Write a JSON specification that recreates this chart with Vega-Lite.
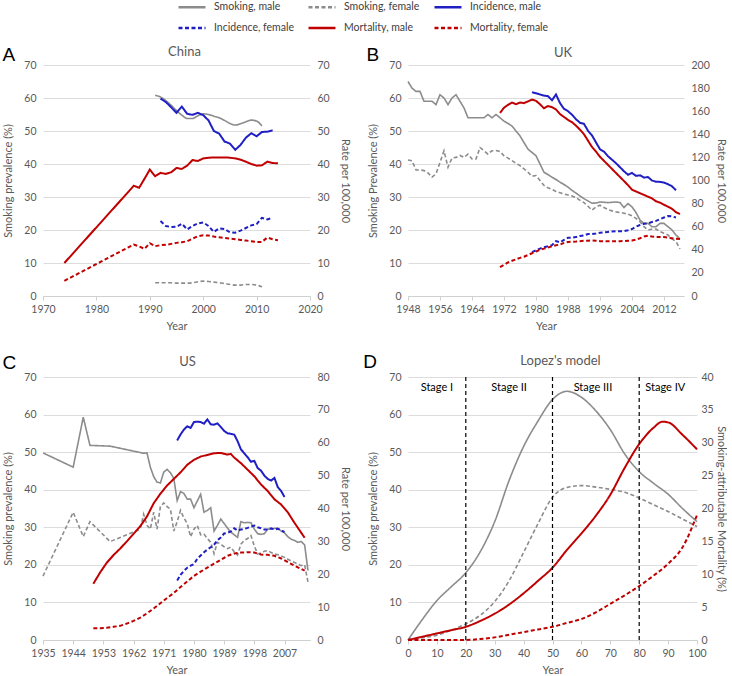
{
  "$schema": "https://vega.github.io/schema/vega-lite/v6.json",
  "padding": {"left": 2, "top": -8, "right": 0, "bottom": 0},
  "columns": 2,
  "spacing": {"row": 81, "column": 98},
  "bounds": "flush",
  "config": {
    "font": "Lato",
    "view": {"stroke": null},
    "axis": {"labelFont": "Lato", "labelFontSize": 10.5, "labelColor": "#595959", "titleFont": "Lato", "titleFontSize": 11, "titleFontWeight": "normal", "titleColor": "#595959", "domain": false, "ticks": false, "grid": false, "labelPadding": 7, "titlePadding": 10, "gridColor": "#dcdcdc", "labelOverlap": false},
    "axisX": {"domain": true, "domainColor": "#d0d0d0", "ticks": true, "tickColor": "#d0d0d0", "tickSize": 4, "labelPadding": 4, "titlePadding": 6, "labelFlush": false, "labelOverlap": false},
    "title": {"font": "Lato", "fontSize": 13, "fontWeight": "normal", "color": "#595959", "offset": 1},
    "legend": {"labelFont": "Lato", "labelFontSize": 10.5, "labelColor": "#404040", "symbolSize": 729, "symbolStrokeWidth": 2.5, "columnPadding": 9, "rowPadding": 0, "labelOffset": 7, "padding": 0, "symbolType": "stroke"}
  },
  "datasets": {
    "chinaSmoking": [
      {"series":"Smoking, male","year":1991,"value":60.8},{"series":"Smoking, male","year":1992,"value":60.3},{"series":"Smoking, male","year":1993,"value":59.2},{"series":"Smoking, male","year":1994,"value":57.8},{"series":"Smoking, male","year":1995,"value":56.2},{"series":"Smoking, male","year":1996,"value":54.8},{"series":"Smoking, male","year":1997,"value":53.8},{"series":"Smoking, male","year":1998,"value":53.8},{"series":"Smoking, male","year":1999,"value":54.6},{"series":"Smoking, male","year":2000,"value":55.2},{"series":"Smoking, male","year":2001,"value":55.0},{"series":"Smoking, male","year":2002,"value":54.5},{"series":"Smoking, male","year":2003,"value":54.0},{"series":"Smoking, male","year":2004,"value":53.2},{"series":"Smoking, male","year":2005,"value":52.3},{"series":"Smoking, male","year":2006,"value":51.8},{"series":"Smoking, male","year":2007,"value":52.2},{"series":"Smoking, male","year":2008,"value":52.8},{"series":"Smoking, male","year":2009,"value":53.3},{"series":"Smoking, male","year":2010,"value":53.0},{"series":"Smoking, male","year":2011,"value":51.5},
      {"series":"Smoking, female","year":1991,"value":4.0},{"series":"Smoking, female","year":1992,"value":4.0},{"series":"Smoking, female","year":1993,"value":4.0},{"series":"Smoking, female","year":1994,"value":4.0},{"series":"Smoking, female","year":1995,"value":3.9},{"series":"Smoking, female","year":1996,"value":3.9},{"series":"Smoking, female","year":1997,"value":3.9},{"series":"Smoking, female","year":1998,"value":4.0},{"series":"Smoking, female","year":1999,"value":4.3},{"series":"Smoking, female","year":2000,"value":4.5},{"series":"Smoking, female","year":2001,"value":4.4},{"series":"Smoking, female","year":2002,"value":4.2},{"series":"Smoking, female","year":2003,"value":4.0},{"series":"Smoking, female","year":2004,"value":3.8},{"series":"Smoking, female","year":2005,"value":3.5},{"series":"Smoking, female","year":2006,"value":3.3},{"series":"Smoking, female","year":2007,"value":3.3},{"series":"Smoking, female","year":2008,"value":3.5},{"series":"Smoking, female","year":2009,"value":3.5},{"series":"Smoking, female","year":2010,"value":3.3},{"series":"Smoking, female","year":2011,"value":2.8}
    ],
    "chinaRate": [
      {"series":"Incidence, male","year":1992,"value":59.8},{"series":"Incidence, male","year":1993,"value":58.8},{"series":"Incidence, male","year":1994,"value":57.2},{"series":"Incidence, male","year":1995,"value":55.5},{"series":"Incidence, male","year":1996,"value":57.4},{"series":"Incidence, male","year":1997,"value":55.2},{"series":"Incidence, male","year":1998,"value":54.9},{"series":"Incidence, male","year":1999,"value":55.5},{"series":"Incidence, male","year":2000,"value":54.8},{"series":"Incidence, male","year":2001,"value":53.2},{"series":"Incidence, male","year":2002,"value":50.0},{"series":"Incidence, male","year":2003,"value":49.2},{"series":"Incidence, male","year":2004,"value":46.8},{"series":"Incidence, male","year":2005,"value":46.2},{"series":"Incidence, male","year":2006,"value":44.3},{"series":"Incidence, male","year":2007,"value":45.8},{"series":"Incidence, male","year":2008,"value":48.0},{"series":"Incidence, male","year":2009,"value":49.3},{"series":"Incidence, male","year":2010,"value":48.4},{"series":"Incidence, male","year":2011,"value":49.7},{"series":"Incidence, male","year":2012,"value":49.8},{"series":"Incidence, male","year":2013,"value":50.2},
      {"series":"Incidence, female","year":1992,"value":22.7},{"series":"Incidence, female","year":1993,"value":21.2},{"series":"Incidence, female","year":1994,"value":20.9},{"series":"Incidence, female","year":1995,"value":21.0},{"series":"Incidence, female","year":1996,"value":21.9},{"series":"Incidence, female","year":1997,"value":20.2},{"series":"Incidence, female","year":1998,"value":21.2},{"series":"Incidence, female","year":1999,"value":22.0},{"series":"Incidence, female","year":2000,"value":22.3},{"series":"Incidence, female","year":2001,"value":21.2},{"series":"Incidence, female","year":2002,"value":19.4},{"series":"Incidence, female","year":2003,"value":20.5},{"series":"Incidence, female","year":2004,"value":20.3},{"series":"Incidence, female","year":2005,"value":19.3},{"series":"Incidence, female","year":2006,"value":19.2},{"series":"Incidence, female","year":2007,"value":19.8},{"series":"Incidence, female","year":2008,"value":20.6},{"series":"Incidence, female","year":2009,"value":21.4},{"series":"Incidence, female","year":2010,"value":21.8},{"series":"Incidence, female","year":2011,"value":23.7},{"series":"Incidence, female","year":2012,"value":23.2},{"series":"Incidence, female","year":2013,"value":23.7},
      {"series":"Mortality, male","year":1974,"value":10.0},{"series":"Mortality, male","year":1987,"value":33.4},{"series":"Mortality, male","year":1988,"value":32.8},{"series":"Mortality, male","year":1989,"value":35.5},{"series":"Mortality, male","year":1990,"value":38.3},{"series":"Mortality, male","year":1991,"value":36.3},{"series":"Mortality, male","year":1992,"value":37.3},{"series":"Mortality, male","year":1993,"value":37.0},{"series":"Mortality, male","year":1994,"value":37.5},{"series":"Mortality, male","year":1995,"value":38.8},{"series":"Mortality, male","year":1996,"value":38.5},{"series":"Mortality, male","year":1997,"value":39.5},{"series":"Mortality, male","year":1998,"value":41.2},{"series":"Mortality, male","year":1999,"value":40.9},{"series":"Mortality, male","year":2000,"value":41.7},{"series":"Mortality, male","year":2001,"value":41.9},{"series":"Mortality, male","year":2002,"value":42.0},{"series":"Mortality, male","year":2003,"value":42.0},{"series":"Mortality, male","year":2004,"value":42.0},{"series":"Mortality, male","year":2005,"value":41.9},{"series":"Mortality, male","year":2006,"value":41.7},{"series":"Mortality, male","year":2007,"value":41.3},{"series":"Mortality, male","year":2008,"value":40.7},{"series":"Mortality, male","year":2009,"value":40.0},{"series":"Mortality, male","year":2010,"value":39.5},{"series":"Mortality, male","year":2011,"value":39.6},{"series":"Mortality, male","year":2012,"value":40.7},{"series":"Mortality, male","year":2013,"value":40.3},{"series":"Mortality, male","year":2014,"value":40.2},
      {"series":"Mortality, female","year":1974,"value":4.6},{"series":"Mortality, female","year":1987,"value":15.6},{"series":"Mortality, female","year":1988,"value":15.0},{"series":"Mortality, female","year":1989,"value":14.3},{"series":"Mortality, female","year":1990,"value":16.0},{"series":"Mortality, female","year":1991,"value":15.1},{"series":"Mortality, female","year":1992,"value":15.4},{"series":"Mortality, female","year":1993,"value":15.5},{"series":"Mortality, female","year":1994,"value":15.8},{"series":"Mortality, female","year":1995,"value":16.1},{"series":"Mortality, female","year":1996,"value":16.3},{"series":"Mortality, female","year":1997,"value":16.6},{"series":"Mortality, female","year":1998,"value":17.4},{"series":"Mortality, female","year":1999,"value":18.1},{"series":"Mortality, female","year":2000,"value":18.4},{"series":"Mortality, female","year":2001,"value":18.3},{"series":"Mortality, female","year":2002,"value":18.0},{"series":"Mortality, female","year":2003,"value":17.8},{"series":"Mortality, female","year":2004,"value":17.6},{"series":"Mortality, female","year":2005,"value":17.4},{"series":"Mortality, female","year":2006,"value":17.2},{"series":"Mortality, female","year":2007,"value":17.0},{"series":"Mortality, female","year":2008,"value":16.8},{"series":"Mortality, female","year":2009,"value":16.6},{"series":"Mortality, female","year":2010,"value":16.4},{"series":"Mortality, female","year":2011,"value":16.4},{"series":"Mortality, female","year":2012,"value":17.7},{"series":"Mortality, female","year":2013,"value":17.2},{"series":"Mortality, female","year":2014,"value":16.9}
    ],
    "ukSmoking": [
      {"series":"Smoking, male","year":1948,"value":65.0},{"series":"Smoking, male","year":1949,"value":63.0},{"series":"Smoking, male","year":1950,"value":62.0},{"series":"Smoking, male","year":1951,"value":62.0},{"series":"Smoking, male","year":1952,"value":59.0},{"series":"Smoking, male","year":1953,"value":59.0},{"series":"Smoking, male","year":1954,"value":59.0},{"series":"Smoking, male","year":1955,"value":58.0},{"series":"Smoking, male","year":1956,"value":61.0},{"series":"Smoking, male","year":1957,"value":60.0},{"series":"Smoking, male","year":1958,"value":58.0},{"series":"Smoking, male","year":1959,"value":60.0},{"series":"Smoking, male","year":1960,"value":61.0},{"series":"Smoking, male","year":1961,"value":59.0},{"series":"Smoking, male","year":1962,"value":57.0},{"series":"Smoking, male","year":1963,"value":54.0},{"series":"Smoking, male","year":1964,"value":54.0},{"series":"Smoking, male","year":1965,"value":54.0},{"series":"Smoking, male","year":1966,"value":54.0},{"series":"Smoking, male","year":1967,"value":54.0},{"series":"Smoking, male","year":1968,"value":55.0},{"series":"Smoking, male","year":1969,"value":54.0},{"series":"Smoking, male","year":1970,"value":55.0},{"series":"Smoking, male","year":1971,"value":54.0},{"series":"Smoking, male","year":1972,"value":53.0},{"series":"Smoking, male","year":1973,"value":52.3},{"series":"Smoking, male","year":1974,"value":51.5},{"series":"Smoking, male","year":1975,"value":50.0},{"series":"Smoking, male","year":1976,"value":48.5},{"series":"Smoking, male","year":1977,"value":46.5},{"series":"Smoking, male","year":1978,"value":44.5},{"series":"Smoking, male","year":1979,"value":43.5},{"series":"Smoking, male","year":1980,"value":42.5},{"series":"Smoking, male","year":1981,"value":40.0},{"series":"Smoking, male","year":1982,"value":37.5},{"series":"Smoking, male","year":1983,"value":36.8},{"series":"Smoking, male","year":1984,"value":36.0},{"series":"Smoking, male","year":1985,"value":35.3},{"series":"Smoking, male","year":1986,"value":34.5},{"series":"Smoking, male","year":1987,"value":33.8},{"series":"Smoking, male","year":1988,"value":33.0},{"series":"Smoking, male","year":1989,"value":32.0},{"series":"Smoking, male","year":1990,"value":31.2},{"series":"Smoking, male","year":1991,"value":30.3},{"series":"Smoking, male","year":1992,"value":29.5},{"series":"Smoking, male","year":1993,"value":28.8},{"series":"Smoking, male","year":1994,"value":28.1},{"series":"Smoking, male","year":1995,"value":28.2},{"series":"Smoking, male","year":1996,"value":28.5},{"series":"Smoking, male","year":1997,"value":28.4},{"series":"Smoking, male","year":1998,"value":28.3},{"series":"Smoking, male","year":1999,"value":28.4},{"series":"Smoking, male","year":2000,"value":28.5},{"series":"Smoking, male","year":2001,"value":28.3},{"series":"Smoking, male","year":2002,"value":26.8},{"series":"Smoking, male","year":2003,"value":28.0},{"series":"Smoking, male","year":2004,"value":27.0},{"series":"Smoking, male","year":2005,"value":25.3},{"series":"Smoking, male","year":2006,"value":23.0},{"series":"Smoking, male","year":2007,"value":22.0},{"series":"Smoking, male","year":2008,"value":22.0},{"series":"Smoking, male","year":2009,"value":21.0},{"series":"Smoking, male","year":2010,"value":21.0},{"series":"Smoking, male","year":2011,"value":22.0},{"series":"Smoking, male","year":2012,"value":22.0},{"series":"Smoking, male","year":2013,"value":21.0},{"series":"Smoking, male","year":2014,"value":20.0},{"series":"Smoking, male","year":2015,"value":18.5},{"series":"Smoking, male","year":2016,"value":17.3},
      {"series":"Smoking, female","year":1948,"value":41.2},{"series":"Smoking, female","year":1949,"value":41.0},{"series":"Smoking, female","year":1950,"value":38.2},{"series":"Smoking, female","year":1951,"value":38.2},{"series":"Smoking, female","year":1952,"value":38.0},{"series":"Smoking, female","year":1953,"value":37.3},{"series":"Smoking, female","year":1954,"value":36.0},{"series":"Smoking, female","year":1955,"value":37.0},{"series":"Smoking, female","year":1956,"value":40.5},{"series":"Smoking, female","year":1957,"value":44.0},{"series":"Smoking, female","year":1958,"value":39.0},{"series":"Smoking, female","year":1959,"value":41.8},{"series":"Smoking, female","year":1960,"value":42.0},{"series":"Smoking, female","year":1961,"value":42.6},{"series":"Smoking, female","year":1962,"value":42.0},{"series":"Smoking, female","year":1963,"value":43.0},{"series":"Smoking, female","year":1964,"value":41.5},{"series":"Smoking, female","year":1965,"value":41.5},{"series":"Smoking, female","year":1966,"value":45.0},{"series":"Smoking, female","year":1967,"value":44.0},{"series":"Smoking, female","year":1968,"value":43.0},{"series":"Smoking, female","year":1969,"value":44.0},{"series":"Smoking, female","year":1970,"value":44.1},{"series":"Smoking, female","year":1971,"value":43.8},{"series":"Smoking, female","year":1972,"value":42.5},{"series":"Smoking, female","year":1973,"value":41.8},{"series":"Smoking, female","year":1974,"value":41.0},{"series":"Smoking, female","year":1975,"value":40.2},{"series":"Smoking, female","year":1976,"value":39.5},{"series":"Smoking, female","year":1977,"value":38.5},{"series":"Smoking, female","year":1978,"value":37.5},{"series":"Smoking, female","year":1979,"value":36.3},{"series":"Smoking, female","year":1980,"value":36.5},{"series":"Smoking, female","year":1981,"value":35.0},{"series":"Smoking, female","year":1982,"value":33.5},{"series":"Smoking, female","year":1983,"value":32.8},{"series":"Smoking, female","year":1984,"value":32.3},{"series":"Smoking, female","year":1985,"value":31.7},{"series":"Smoking, female","year":1986,"value":31.3},{"series":"Smoking, female","year":1987,"value":30.9},{"series":"Smoking, female","year":1988,"value":30.6},{"series":"Smoking, female","year":1989,"value":30.3},{"series":"Smoking, female","year":1990,"value":29.8},{"series":"Smoking, female","year":1991,"value":29.0},{"series":"Smoking, female","year":1992,"value":28.3},{"series":"Smoking, female","year":1993,"value":27.2},{"series":"Smoking, female","year":1994,"value":26.0},{"series":"Smoking, female","year":1995,"value":27.0},{"series":"Smoking, female","year":1996,"value":27.5},{"series":"Smoking, female","year":1997,"value":26.8},{"series":"Smoking, female","year":1998,"value":26.2},{"series":"Smoking, female","year":1999,"value":25.8},{"series":"Smoking, female","year":2000,"value":25.5},{"series":"Smoking, female","year":2001,"value":25.3},{"series":"Smoking, female","year":2002,"value":25.1},{"series":"Smoking, female","year":2003,"value":24.8},{"series":"Smoking, female","year":2004,"value":24.3},{"series":"Smoking, female","year":2005,"value":23.5},{"series":"Smoking, female","year":2006,"value":22.5},{"series":"Smoking, female","year":2007,"value":21.0},{"series":"Smoking, female","year":2008,"value":20.0},{"series":"Smoking, female","year":2009,"value":20.3},{"series":"Smoking, female","year":2010,"value":20.3},{"series":"Smoking, female","year":2011,"value":19.5},{"series":"Smoking, female","year":2012,"value":19.0},{"series":"Smoking, female","year":2013,"value":18.5},{"series":"Smoking, female","year":2014,"value":17.3},{"series":"Smoking, female","year":2015,"value":16.5},{"series":"Smoking, female","year":2016,"value":14.3}
    ],
    "ukRate": [
      {"series":"Incidence, male","year":1979,"value":176.5},{"series":"Incidence, male","year":1980,"value":175.5},{"series":"Incidence, male","year":1981,"value":174.5},{"series":"Incidence, male","year":1982,"value":173.5},{"series":"Incidence, male","year":1983,"value":173.0},{"series":"Incidence, male","year":1984,"value":169.5},{"series":"Incidence, male","year":1985,"value":174.5},{"series":"Incidence, male","year":1986,"value":167.0},{"series":"Incidence, male","year":1987,"value":162.0},{"series":"Incidence, male","year":1988,"value":160.0},{"series":"Incidence, male","year":1989,"value":157.0},{"series":"Incidence, male","year":1990,"value":153.0},{"series":"Incidence, male","year":1991,"value":150.0},{"series":"Incidence, male","year":1992,"value":149.0},{"series":"Incidence, male","year":1993,"value":143.0},{"series":"Incidence, male","year":1994,"value":139.0},{"series":"Incidence, male","year":1995,"value":133.0},{"series":"Incidence, male","year":1996,"value":127.0},{"series":"Incidence, male","year":1997,"value":125.0},{"series":"Incidence, male","year":1998,"value":121.0},{"series":"Incidence, male","year":1999,"value":118.0},{"series":"Incidence, male","year":2000,"value":115.0},{"series":"Incidence, male","year":2001,"value":111.5},{"series":"Incidence, male","year":2002,"value":108.0},{"series":"Incidence, male","year":2003,"value":105.0},{"series":"Incidence, male","year":2004,"value":106.5},{"series":"Incidence, male","year":2005,"value":104.0},{"series":"Incidence, male","year":2006,"value":104.5},{"series":"Incidence, male","year":2007,"value":102.5},{"series":"Incidence, male","year":2008,"value":103.0},{"series":"Incidence, male","year":2009,"value":100.0},{"series":"Incidence, male","year":2010,"value":99.0},{"series":"Incidence, male","year":2011,"value":98.8},{"series":"Incidence, male","year":2012,"value":98.2},{"series":"Incidence, male","year":2013,"value":96.8},{"series":"Incidence, male","year":2014,"value":95.0},{"series":"Incidence, male","year":2015,"value":91.5},
      {"series":"Incidence, female","year":1979,"value":38.0},{"series":"Incidence, female","year":1980,"value":39.5},{"series":"Incidence, female","year":1981,"value":41.0},{"series":"Incidence, female","year":1982,"value":42.2},{"series":"Incidence, female","year":1983,"value":43.0},{"series":"Incidence, female","year":1984,"value":44.0},{"series":"Incidence, female","year":1985,"value":47.5},{"series":"Incidence, female","year":1986,"value":46.5},{"series":"Incidence, female","year":1987,"value":48.5},{"series":"Incidence, female","year":1988,"value":50.5},{"series":"Incidence, female","year":1989,"value":50.5},{"series":"Incidence, female","year":1990,"value":51.0},{"series":"Incidence, female","year":1991,"value":52.0},{"series":"Incidence, female","year":1992,"value":52.5},{"series":"Incidence, female","year":1993,"value":53.7},{"series":"Incidence, female","year":1994,"value":53.7},{"series":"Incidence, female","year":1995,"value":54.2},{"series":"Incidence, female","year":1996,"value":54.8},{"series":"Incidence, female","year":1997,"value":55.2},{"series":"Incidence, female","year":1998,"value":55.5},{"series":"Incidence, female","year":1999,"value":55.8},{"series":"Incidence, female","year":2000,"value":56.0},{"series":"Incidence, female","year":2001,"value":56.0},{"series":"Incidence, female","year":2002,"value":56.2},{"series":"Incidence, female","year":2003,"value":57.0},{"series":"Incidence, female","year":2004,"value":58.0},{"series":"Incidence, female","year":2005,"value":60.0},{"series":"Incidence, female","year":2006,"value":61.5},{"series":"Incidence, female","year":2007,"value":62.5},{"series":"Incidence, female","year":2008,"value":63.0},{"series":"Incidence, female","year":2009,"value":64.0},{"series":"Incidence, female","year":2010,"value":65.0},{"series":"Incidence, female","year":2011,"value":66.5},{"series":"Incidence, female","year":2012,"value":68.0},{"series":"Incidence, female","year":2013,"value":69.3},{"series":"Incidence, female","year":2014,"value":68.9},{"series":"Incidence, female","year":2015,"value":68.0},
      {"series":"Mortality, male","year":1971,"value":158.5},{"series":"Mortality, male","year":1972,"value":163.0},{"series":"Mortality, male","year":1973,"value":165.5},{"series":"Mortality, male","year":1974,"value":167.5},{"series":"Mortality, male","year":1975,"value":166.0},{"series":"Mortality, male","year":1976,"value":167.5},{"series":"Mortality, male","year":1977,"value":167.0},{"series":"Mortality, male","year":1978,"value":168.5},{"series":"Mortality, male","year":1979,"value":170.0},{"series":"Mortality, male","year":1980,"value":169.0},{"series":"Mortality, male","year":1981,"value":166.0},{"series":"Mortality, male","year":1982,"value":162.5},{"series":"Mortality, male","year":1983,"value":164.5},{"series":"Mortality, male","year":1984,"value":163.5},{"series":"Mortality, male","year":1985,"value":161.5},{"series":"Mortality, male","year":1986,"value":157.5},{"series":"Mortality, male","year":1987,"value":155.0},{"series":"Mortality, male","year":1988,"value":152.5},{"series":"Mortality, male","year":1989,"value":150.5},{"series":"Mortality, male","year":1990,"value":147.5},{"series":"Mortality, male","year":1991,"value":144.0},{"series":"Mortality, male","year":1992,"value":140.0},{"series":"Mortality, male","year":1993,"value":134.5},{"series":"Mortality, male","year":1994,"value":129.0},{"series":"Mortality, male","year":1995,"value":125.0},{"series":"Mortality, male","year":1996,"value":120.5},{"series":"Mortality, male","year":1997,"value":117.0},{"series":"Mortality, male","year":1998,"value":113.5},{"series":"Mortality, male","year":1999,"value":110.0},{"series":"Mortality, male","year":2000,"value":106.5},{"series":"Mortality, male","year":2001,"value":103.0},{"series":"Mortality, male","year":2002,"value":99.5},{"series":"Mortality, male","year":2003,"value":96.0},{"series":"Mortality, male","year":2004,"value":92.0},{"series":"Mortality, male","year":2005,"value":90.5},{"series":"Mortality, male","year":2006,"value":89.0},{"series":"Mortality, male","year":2007,"value":87.5},{"series":"Mortality, male","year":2008,"value":86.0},{"series":"Mortality, male","year":2009,"value":84.5},{"series":"Mortality, male","year":2010,"value":82.0},{"series":"Mortality, male","year":2011,"value":80.8},{"series":"Mortality, male","year":2012,"value":79.0},{"series":"Mortality, male","year":2013,"value":77.3},{"series":"Mortality, male","year":2014,"value":75.5},{"series":"Mortality, male","year":2015,"value":72.5},{"series":"Mortality, male","year":2016,"value":71.0},
      {"series":"Mortality, female","year":1971,"value":25.0},{"series":"Mortality, female","year":1972,"value":27.0},{"series":"Mortality, female","year":1973,"value":29.0},{"series":"Mortality, female","year":1974,"value":30.5},{"series":"Mortality, female","year":1975,"value":31.8},{"series":"Mortality, female","year":1976,"value":33.0},{"series":"Mortality, female","year":1977,"value":34.0},{"series":"Mortality, female","year":1978,"value":35.5},{"series":"Mortality, female","year":1979,"value":37.0},{"series":"Mortality, female","year":1980,"value":38.5},{"series":"Mortality, female","year":1981,"value":40.0},{"series":"Mortality, female","year":1982,"value":41.0},{"series":"Mortality, female","year":1983,"value":42.0},{"series":"Mortality, female","year":1984,"value":43.0},{"series":"Mortality, female","year":1985,"value":44.0},{"series":"Mortality, female","year":1986,"value":44.5},{"series":"Mortality, female","year":1987,"value":46.0},{"series":"Mortality, female","year":1988,"value":46.8},{"series":"Mortality, female","year":1989,"value":47.0},{"series":"Mortality, female","year":1990,"value":47.2},{"series":"Mortality, female","year":1991,"value":47.5},{"series":"Mortality, female","year":1992,"value":47.8},{"series":"Mortality, female","year":1993,"value":47.9},{"series":"Mortality, female","year":1994,"value":48.0},{"series":"Mortality, female","year":1995,"value":47.8},{"series":"Mortality, female","year":1996,"value":47.5},{"series":"Mortality, female","year":1997,"value":47.3},{"series":"Mortality, female","year":1998,"value":47.3},{"series":"Mortality, female","year":1999,"value":47.3},{"series":"Mortality, female","year":2000,"value":47.3},{"series":"Mortality, female","year":2001,"value":47.5},{"series":"Mortality, female","year":2002,"value":47.6},{"series":"Mortality, female","year":2003,"value":47.8},{"series":"Mortality, female","year":2004,"value":48.0},{"series":"Mortality, female","year":2005,"value":48.8},{"series":"Mortality, female","year":2006,"value":50.0},{"series":"Mortality, female","year":2007,"value":51.5},{"series":"Mortality, female","year":2008,"value":52.2},{"series":"Mortality, female","year":2009,"value":51.5},{"series":"Mortality, female","year":2010,"value":51.0},{"series":"Mortality, female","year":2011,"value":51.0},{"series":"Mortality, female","year":2012,"value":51.0},{"series":"Mortality, female","year":2013,"value":50.5},{"series":"Mortality, female","year":2014,"value":50.0},{"series":"Mortality, female","year":2015,"value":49.5},{"series":"Mortality, female","year":2016,"value":49.3}
    ],
    "usSmoking": [
      {"series":"Smoking, male","year":1935,"value":49.8},{"series":"Smoking, male","year":1944,"value":46.0},{"series":"Smoking, male","year":1947,"value":59.3},{"series":"Smoking, male","year":1949,"value":51.8},{"series":"Smoking, male","year":1955,"value":51.6},{"series":"Smoking, male","year":1965,"value":49.7},{"series":"Smoking, male","year":1966,"value":49.8},{"series":"Smoking, male","year":1967,"value":46.0},{"series":"Smoking, male","year":1968,"value":43.5},{"series":"Smoking, male","year":1969,"value":42.0},{"series":"Smoking, male","year":1970,"value":41.8},{"series":"Smoking, male","year":1971,"value":44.7},{"series":"Smoking, male","year":1972,"value":45.4},{"series":"Smoking, male","year":1973,"value":44.5},{"series":"Smoking, male","year":1974,"value":43.0},{"series":"Smoking, male","year":1975,"value":37.1},{"series":"Smoking, male","year":1976,"value":39.5},{"series":"Smoking, male","year":1977,"value":39.0},{"series":"Smoking, male","year":1978,"value":37.5},{"series":"Smoking, male","year":1979,"value":37.5},{"series":"Smoking, male","year":1980,"value":35.2},{"series":"Smoking, male","year":1981,"value":37.0},{"series":"Smoking, male","year":1982,"value":38.8},{"series":"Smoking, male","year":1983,"value":34.0},{"series":"Smoking, male","year":1984,"value":34.5},{"series":"Smoking, male","year":1985,"value":35.2},{"series":"Smoking, male","year":1986,"value":29.0},{"series":"Smoking, male","year":1987,"value":30.5},{"series":"Smoking, male","year":1988,"value":32.2},{"series":"Smoking, male","year":1989,"value":31.0},{"series":"Smoking, male","year":1990,"value":29.8},{"series":"Smoking, male","year":1991,"value":28.7},{"series":"Smoking, male","year":1992,"value":28.0},{"series":"Smoking, male","year":1993,"value":27.3},{"series":"Smoking, male","year":1994,"value":31.5},{"series":"Smoking, male","year":1995,"value":31.2},{"series":"Smoking, male","year":1996,"value":31.3},{"series":"Smoking, male","year":1997,"value":31.2},{"series":"Smoking, male","year":1998,"value":29.5},{"series":"Smoking, male","year":1999,"value":28.3},{"series":"Smoking, male","year":2000,"value":28.1},{"series":"Smoking, male","year":2001,"value":28.3},{"series":"Smoking, male","year":2002,"value":29.5},{"series":"Smoking, male","year":2003,"value":29.5},{"series":"Smoking, male","year":2004,"value":29.7},{"series":"Smoking, male","year":2005,"value":29.8},{"series":"Smoking, male","year":2006,"value":29.0},{"series":"Smoking, male","year":2007,"value":28.5},{"series":"Smoking, male","year":2008,"value":27.5},{"series":"Smoking, male","year":2009,"value":26.8},{"series":"Smoking, male","year":2010,"value":26.5},{"series":"Smoking, male","year":2011,"value":26.0},{"series":"Smoking, male","year":2012,"value":26.2},{"series":"Smoking, male","year":2013,"value":25.3},{"series":"Smoking, male","year":2014,"value":18.5},
      {"series":"Smoking, female","year":1935,"value":17.0},{"series":"Smoking, female","year":1944,"value":34.0},{"series":"Smoking, female","year":1947,"value":27.5},{"series":"Smoking, female","year":1949,"value":31.5},{"series":"Smoking, female","year":1955,"value":26.2},{"series":"Smoking, female","year":1960,"value":28.0},{"series":"Smoking, female","year":1964,"value":29.5},{"series":"Smoking, female","year":1965,"value":33.5},{"series":"Smoking, female","year":1966,"value":30.5},{"series":"Smoking, female","year":1967,"value":29.5},{"series":"Smoking, female","year":1968,"value":34.0},{"series":"Smoking, female","year":1969,"value":29.5},{"series":"Smoking, female","year":1970,"value":35.5},{"series":"Smoking, female","year":1971,"value":36.5},{"series":"Smoking, female","year":1972,"value":35.5},{"series":"Smoking, female","year":1973,"value":34.8},{"series":"Smoking, female","year":1974,"value":29.0},{"series":"Smoking, female","year":1975,"value":31.5},{"series":"Smoking, female","year":1976,"value":34.5},{"series":"Smoking, female","year":1977,"value":32.5},{"series":"Smoking, female","year":1978,"value":31.0},{"series":"Smoking, female","year":1979,"value":27.5},{"series":"Smoking, female","year":1980,"value":29.5},{"series":"Smoking, female","year":1981,"value":30.5},{"series":"Smoking, female","year":1982,"value":28.0},{"series":"Smoking, female","year":1983,"value":28.2},{"series":"Smoking, female","year":1984,"value":27.0},{"series":"Smoking, female","year":1985,"value":26.0},{"series":"Smoking, female","year":1986,"value":23.0},{"series":"Smoking, female","year":1987,"value":26.0},{"series":"Smoking, female","year":1988,"value":25.5},{"series":"Smoking, female","year":1989,"value":24.8},{"series":"Smoking, female","year":1990,"value":24.3},{"series":"Smoking, female","year":1991,"value":24.7},{"series":"Smoking, female","year":1992,"value":23.5},{"series":"Smoking, female","year":1993,"value":22.6},{"series":"Smoking, female","year":1994,"value":25.5},{"series":"Smoking, female","year":1995,"value":26.5},{"series":"Smoking, female","year":1996,"value":27.0},{"series":"Smoking, female","year":1997,"value":27.8},{"series":"Smoking, female","year":1998,"value":25.0},{"series":"Smoking, female","year":1999,"value":22.9},{"series":"Smoking, female","year":2000,"value":23.2},{"series":"Smoking, female","year":2001,"value":23.6},{"series":"Smoking, female","year":2002,"value":23.8},{"series":"Smoking, female","year":2003,"value":23.3},{"series":"Smoking, female","year":2004,"value":22.9},{"series":"Smoking, female","year":2005,"value":22.7},{"series":"Smoking, female","year":2006,"value":22.4},{"series":"Smoking, female","year":2007,"value":22.0},{"series":"Smoking, female","year":2008,"value":21.5},{"series":"Smoking, female","year":2009,"value":21.0},{"series":"Smoking, female","year":2010,"value":20.6},{"series":"Smoking, female","year":2011,"value":20.2},{"series":"Smoking, female","year":2012,"value":19.8},{"series":"Smoking, female","year":2013,"value":20.0},{"series":"Smoking, female","year":2014,"value":15.4}
    ],
    "usRate": [
      {"series":"Incidence, male","year":1975,"value":60.7},{"series":"Incidence, male","year":1976,"value":62.5},{"series":"Incidence, male","year":1977,"value":64.0},{"series":"Incidence, male","year":1978,"value":65.0},{"series":"Incidence, male","year":1979,"value":64.5},{"series":"Incidence, male","year":1980,"value":66.3},{"series":"Incidence, male","year":1981,"value":66.4},{"series":"Incidence, male","year":1982,"value":66.3},{"series":"Incidence, male","year":1983,"value":65.8},{"series":"Incidence, male","year":1984,"value":67.1},{"series":"Incidence, male","year":1985,"value":65.6},{"series":"Incidence, male","year":1986,"value":65.5},{"series":"Incidence, male","year":1987,"value":65.9},{"series":"Incidence, male","year":1988,"value":64.8},{"series":"Incidence, male","year":1989,"value":63.6},{"series":"Incidence, male","year":1990,"value":62.9},{"series":"Incidence, male","year":1991,"value":62.7},{"series":"Incidence, male","year":1992,"value":62.5},{"series":"Incidence, male","year":1993,"value":60.5},{"series":"Incidence, male","year":1994,"value":58.0},{"series":"Incidence, male","year":1995,"value":56.8},{"series":"Incidence, male","year":1996,"value":55.6},{"series":"Incidence, male","year":1997,"value":54.2},{"series":"Incidence, male","year":1998,"value":54.5},{"series":"Incidence, male","year":1999,"value":52.3},{"series":"Incidence, male","year":2000,"value":51.5},{"series":"Incidence, male","year":2001,"value":50.0},{"series":"Incidence, male","year":2002,"value":49.0},{"series":"Incidence, male","year":2003,"value":48.5},{"series":"Incidence, male","year":2004,"value":49.3},{"series":"Incidence, male","year":2005,"value":46.5},{"series":"Incidence, male","year":2006,"value":45.3},{"series":"Incidence, male","year":2007,"value":43.5},
      {"series":"Incidence, female","year":1975,"value":18.1},{"series":"Incidence, female","year":1976,"value":19.8},{"series":"Incidence, female","year":1977,"value":21.0},{"series":"Incidence, female","year":1978,"value":22.0},{"series":"Incidence, female","year":1979,"value":22.6},{"series":"Incidence, female","year":1980,"value":23.1},{"series":"Incidence, female","year":1981,"value":24.7},{"series":"Incidence, female","year":1982,"value":25.7},{"series":"Incidence, female","year":1983,"value":26.7},{"series":"Incidence, female","year":1984,"value":27.5},{"series":"Incidence, female","year":1985,"value":28.2},{"series":"Incidence, female","year":1986,"value":29.0},{"series":"Incidence, female","year":1987,"value":30.3},{"series":"Incidence, female","year":1988,"value":31.2},{"series":"Incidence, female","year":1989,"value":32.4},{"series":"Incidence, female","year":1990,"value":32.6},{"series":"Incidence, female","year":1991,"value":33.0},{"series":"Incidence, female","year":1992,"value":34.0},{"series":"Incidence, female","year":1993,"value":33.3},{"series":"Incidence, female","year":1994,"value":33.6},{"series":"Incidence, female","year":1995,"value":33.8},{"series":"Incidence, female","year":1996,"value":34.1},{"series":"Incidence, female","year":1997,"value":34.5},{"series":"Incidence, female","year":1998,"value":34.8},{"series":"Incidence, female","year":1999,"value":34.3},{"series":"Incidence, female","year":2000,"value":34.0},{"series":"Incidence, female","year":2001,"value":33.6},{"series":"Incidence, female","year":2002,"value":33.6},{"series":"Incidence, female","year":2003,"value":34.0},{"series":"Incidence, female","year":2004,"value":33.6},{"series":"Incidence, female","year":2005,"value":33.8},{"series":"Incidence, female","year":2006,"value":33.4},{"series":"Incidence, female","year":2007,"value":32.8},
      {"series":"Mortality, male","year":1950,"value":17.1},{"series":"Mortality, male","year":1952,"value":20.5},{"series":"Mortality, male","year":1954,"value":23.5},{"series":"Mortality, male","year":1956,"value":25.8},{"series":"Mortality, male","year":1958,"value":27.8},{"series":"Mortality, male","year":1960,"value":30.0},{"series":"Mortality, male","year":1962,"value":32.3},{"series":"Mortality, male","year":1964,"value":34.6},{"series":"Mortality, male","year":1966,"value":37.6},{"series":"Mortality, male","year":1968,"value":41.6},{"series":"Mortality, male","year":1970,"value":44.5},{"series":"Mortality, male","year":1972,"value":47.0},{"series":"Mortality, male","year":1974,"value":49.0},{"series":"Mortality, male","year":1976,"value":51.0},{"series":"Mortality, male","year":1978,"value":53.3},{"series":"Mortality, male","year":1980,"value":54.8},{"series":"Mortality, male","year":1982,"value":55.8},{"series":"Mortality, male","year":1984,"value":56.3},{"series":"Mortality, male","year":1986,"value":56.8},{"series":"Mortality, male","year":1988,"value":56.9},{"series":"Mortality, male","year":1990,"value":56.4},{"series":"Mortality, male","year":1991,"value":56.6},{"series":"Mortality, male","year":1992,"value":55.5},{"series":"Mortality, male","year":1994,"value":53.8},{"series":"Mortality, male","year":1996,"value":51.8},{"series":"Mortality, male","year":1998,"value":49.8},{"series":"Mortality, male","year":2000,"value":47.3},{"series":"Mortality, male","year":2002,"value":45.3},{"series":"Mortality, male","year":2004,"value":42.8},{"series":"Mortality, male","year":2006,"value":41.2},{"series":"Mortality, male","year":2008,"value":38.8},{"series":"Mortality, male","year":2010,"value":35.6},{"series":"Mortality, male","year":2012,"value":32.6},{"series":"Mortality, male","year":2013,"value":31.1},
      {"series":"Mortality, female","year":1950,"value":3.6},{"series":"Mortality, female","year":1952,"value":3.6},{"series":"Mortality, female","year":1954,"value":3.7},{"series":"Mortality, female","year":1956,"value":4.0},{"series":"Mortality, female","year":1958,"value":4.3},{"series":"Mortality, female","year":1960,"value":5.0},{"series":"Mortality, female","year":1962,"value":5.8},{"series":"Mortality, female","year":1964,"value":6.8},{"series":"Mortality, female","year":1966,"value":8.1},{"series":"Mortality, female","year":1968,"value":9.6},{"series":"Mortality, female","year":1970,"value":11.2},{"series":"Mortality, female","year":1972,"value":12.8},{"series":"Mortality, female","year":1974,"value":14.3},{"series":"Mortality, female","year":1976,"value":16.1},{"series":"Mortality, female","year":1978,"value":17.8},{"series":"Mortality, female","year":1980,"value":19.5},{"series":"Mortality, female","year":1982,"value":20.8},{"series":"Mortality, female","year":1984,"value":22.0},{"series":"Mortality, female","year":1986,"value":23.2},{"series":"Mortality, female","year":1988,"value":24.4},{"series":"Mortality, female","year":1990,"value":25.6},{"series":"Mortality, female","year":1992,"value":26.3},{"series":"Mortality, female","year":1994,"value":26.6},{"series":"Mortality, female","year":1996,"value":26.7},{"series":"Mortality, female","year":1998,"value":26.6},{"series":"Mortality, female","year":2000,"value":26.0},{"series":"Mortality, female","year":2002,"value":25.9},{"series":"Mortality, female","year":2004,"value":25.6},{"series":"Mortality, female","year":2006,"value":24.8},{"series":"Mortality, female","year":2008,"value":23.7},{"series":"Mortality, female","year":2010,"value":22.6},{"series":"Mortality, female","year":2012,"value":21.6},{"series":"Mortality, female","year":2013,"value":21.1}
    ],
    "lopezSmoking": [
      {"series":"Smoking, male","year":0,"value":0},{"series":"Smoking, male","year":5,"value":5.5},{"series":"Smoking, male","year":10,"value":10.5},{"series":"Smoking, male","year":15,"value":14.2},{"series":"Smoking, male","year":20,"value":17.9},{"series":"Smoking, male","year":25,"value":23.5},{"series":"Smoking, male","year":30,"value":31.5},{"series":"Smoking, male","year":35,"value":42.5},{"series":"Smoking, male","year":40,"value":51.5},{"series":"Smoking, male","year":45,"value":58.3},{"series":"Smoking, male","year":50,"value":64.0},{"series":"Smoking, male","year":55,"value":66.2},{"series":"Smoking, male","year":60,"value":64.6},{"series":"Smoking, male","year":65,"value":61.0},{"series":"Smoking, male","year":70,"value":56.0},{"series":"Smoking, male","year":75,"value":49.5},{"series":"Smoking, male","year":80,"value":44.8},{"series":"Smoking, male","year":85,"value":41.7},{"series":"Smoking, male","year":90,"value":38.8},{"series":"Smoking, male","year":95,"value":35.0},{"series":"Smoking, male","year":100,"value":31.5},
      {"series":"Smoking, female","year":0,"value":0},{"series":"Smoking, female","year":5,"value":0.6},{"series":"Smoking, female","year":10,"value":1.3},{"series":"Smoking, female","year":15,"value":2.6},{"series":"Smoking, female","year":20,"value":4.3},{"series":"Smoking, female","year":25,"value":6.6},{"series":"Smoking, female","year":30,"value":10.2},{"series":"Smoking, female","year":35,"value":15.8},{"series":"Smoking, female","year":40,"value":23.3},{"series":"Smoking, female","year":45,"value":31.0},{"series":"Smoking, female","year":50,"value":38.0},{"series":"Smoking, female","year":55,"value":40.6},{"series":"Smoking, female","year":60,"value":41.1},{"series":"Smoking, female","year":65,"value":40.7},{"series":"Smoking, female","year":70,"value":40.1},{"series":"Smoking, female","year":75,"value":39.3},{"series":"Smoking, female","year":80,"value":37.8},{"series":"Smoking, female","year":85,"value":36.0},{"series":"Smoking, female","year":90,"value":34.2},{"series":"Smoking, female","year":95,"value":32.2},{"series":"Smoking, female","year":100,"value":30.2}
    ],
    "lopezMortality": [
      {"series":"Mortality, male","year":0,"value":0},{"series":"Mortality, male","year":5,"value":0.5},{"series":"Mortality, male","year":10,"value":1.0},{"series":"Mortality, male","year":15,"value":1.5},{"series":"Mortality, male","year":20,"value":2.0},{"series":"Mortality, male","year":25,"value":2.9},{"series":"Mortality, male","year":30,"value":4.0},{"series":"Mortality, male","year":35,"value":5.4},{"series":"Mortality, male","year":40,"value":7.1},{"series":"Mortality, male","year":45,"value":9.0},{"series":"Mortality, male","year":50,"value":11.0},{"series":"Mortality, male","year":55,"value":13.7},{"series":"Mortality, male","year":60,"value":16.2},{"series":"Mortality, male","year":65,"value":18.9},{"series":"Mortality, male","year":70,"value":22.1},{"series":"Mortality, male","year":75,"value":26.2},{"series":"Mortality, male","year":80,"value":29.8},{"series":"Mortality, male","year":85,"value":32.3},{"series":"Mortality, male","year":88,"value":33.2},{"series":"Mortality, male","year":90,"value":33.1},{"series":"Mortality, male","year":95,"value":31.2},{"series":"Mortality, male","year":100,"value":29.0},
      {"series":"Mortality, female","year":0,"value":0},{"series":"Mortality, female","year":5,"value":0},{"series":"Mortality, female","year":10,"value":0},{"series":"Mortality, female","year":15,"value":0},{"series":"Mortality, female","year":20,"value":0},{"series":"Mortality, female","year":25,"value":0.15},{"series":"Mortality, female","year":30,"value":0.4},{"series":"Mortality, female","year":35,"value":0.8},{"series":"Mortality, female","year":40,"value":1.2},{"series":"Mortality, female","year":45,"value":1.6},{"series":"Mortality, female","year":50,"value":2.0},{"series":"Mortality, female","year":55,"value":2.6},{"series":"Mortality, female","year":60,"value":3.2},{"series":"Mortality, female","year":65,"value":4.2},{"series":"Mortality, female","year":70,"value":5.5},{"series":"Mortality, female","year":75,"value":6.8},{"series":"Mortality, female","year":80,"value":8.2},{"series":"Mortality, female","year":85,"value":9.8},{"series":"Mortality, female","year":90,"value":11.6},{"series":"Mortality, female","year":95,"value":14.1},{"series":"Mortality, female","year":100,"value":19.0}
    ]
  },
  "concat": [
    {
      "width": 267, "height": 231,
      "title": {"text": "China", "dx": 8, "offset": -13},
      "resolve": {"scale": {"y": "independent"}},
      "layer": [
        {
          "encoding": {
            "x": {"field": "year", "type": "quantitative", "scale": {"domain": [1970, 2020], "nice": false, "zero": false}, "axis": {"title": "Year", "values": [1970, 1980, 1990, 2000, 2010, 2020], "format": "d", "labelOverlap": false}},
            "y": {"field": "value", "type": "quantitative", "scale": {"domain": [0, 70], "nice": false}, "axis": {"title": "Smoking prevalence (%)", "values": [0, 10, 20, 30, 40, 50, 60, 70], "grid": true}}
          },
          "layer": [
            {"data": {"name": "chinaSmoking"}, "mark": {"type": "line", "strokeWidth": 1.6, "interpolate": "monotone"},
             "encoding": {
               "color": {"field": "series", "type": "nominal", "scale": {"domain": ["Smoking, male", "Smoking, female", "Incidence, male", "Incidence, female", "Mortality, male", "Mortality, female"], "range": ["#8c8c8c", "#8c8c8c", "#1f1fc4", "#1f1fc4", "#c00000", "#c00000"]}, "legend": {"title": null, "orient": "none", "legendX": 134, "legendY": -73, "columns": 3, "direction": "horizontal"}},
               "strokeDash": {"field": "series", "type": "nominal", "scale": {"domain": ["Smoking, male", "Smoking, female", "Incidence, male", "Incidence, female", "Mortality, male", "Mortality, female"], "range": [[1, 0], [4, 2.5], [1, 0], [4, 2.5], [1, 0], [4, 2.5]]}, "legend": {"title": null, "orient": "none", "legendX": 134, "legendY": -73, "columns": 3, "direction": "horizontal"}}
             }}
          ]
        },
        {
          "encoding": {
            "x": {"field": "year", "type": "quantitative", "scale": {"domain": [1970, 2020], "nice": false, "zero": false}, "axis": {"title": "Year", "values": [1970, 1980, 1990, 2000, 2010, 2020], "format": "d", "labelOverlap": false}},
            "y": {"field": "value", "type": "quantitative", "scale": {"domain": [0, 70], "nice": false}, "axis": {"title": "Rate per 100,000", "orient": "right", "values": [0, 10, 20, 30, 40, 50, 60, 70]}}
          },
          "layer": [
            {"data": {"name": "chinaRate"}, "mark": {"type": "line", "strokeWidth": 2},
             "encoding": {
               "color": {"field": "series", "type": "nominal", "scale": {"domain": ["Smoking, male", "Smoking, female", "Incidence, male", "Incidence, female", "Mortality, male", "Mortality, female"], "range": ["#8c8c8c", "#8c8c8c", "#1f1fc4", "#1f1fc4", "#c00000", "#c00000"]}, "legend": {"title": null, "orient": "none", "legendX": 134, "legendY": -73, "columns": 3, "direction": "horizontal"}},
               "strokeDash": {"field": "series", "type": "nominal", "scale": {"domain": ["Smoking, male", "Smoking, female", "Incidence, male", "Incidence, female", "Mortality, male", "Mortality, female"], "range": [[1, 0], [4, 2.5], [1, 0], [4, 2.5], [1, 0], [4, 2.5]]}, "legend": {"title": null, "orient": "none", "legendX": 134, "legendY": -73, "columns": 3, "direction": "horizontal"}}
             }}
          ]
        },
        {
          "data": {"values": [{"letter": "A"}]},
          "mark": {"type": "text", "font": "Liberation Sans", "fontSize": 19, "fill": "#000000", "baseline": "middle", "align": "center"},
          "encoding": {
            "text": {"field": "letter", "type": "nominal"},
            "x": {"datum": 1963.6, "type": "quantitative", "scale": {"domain": [1970, 2020], "nice": false, "zero": false}, "axis": {"title": "Year", "values": [1970, 1980, 1990, 2000, 2010, 2020], "format": "d", "labelOverlap": false}},
            "y": {"datum": 73.0, "type": "quantitative", "scale": {"domain": [0, 70], "nice": false}, "axis": null}
          }
        }
      ]
    },
    {
      "width": 276, "height": 231,
      "title": {"text": "UK", "dx": 17, "offset": -14},
      "resolve": {"scale": {"y": "independent"}},
      "layer": [
        {
          "encoding": {
            "x": {"field": "year", "type": "quantitative", "scale": {"domain": [1948, 2017], "nice": false, "zero": false}, "axis": {"title": "Year", "values": [1948, 1956, 1964, 1972, 1980, 1988, 1996, 2004, 2012], "format": "d", "labelOverlap": false}},
            "y": {"field": "value", "type": "quantitative", "scale": {"domain": [0, 70], "nice": false}, "axis": {"title": "Smoking Prevalence (%)", "values": [0, 10, 20, 30, 40, 50, 60, 70], "grid": true}}
          },
          "layer": [
            {"data": {"name": "ukSmoking"}, "mark": {"type": "line", "strokeWidth": 1.6},
             "encoding": {
               "color": {"field": "series", "type": "nominal", "scale": {"domain": ["Smoking, male", "Smoking, female", "Incidence, male", "Incidence, female", "Mortality, male", "Mortality, female"], "range": ["#8c8c8c", "#8c8c8c", "#1f1fc4", "#1f1fc4", "#c00000", "#c00000"]}, "legend": {"title": null, "orient": "none", "legendX": 134, "legendY": -73, "columns": 3, "direction": "horizontal"}},
               "strokeDash": {"field": "series", "type": "nominal", "scale": {"domain": ["Smoking, male", "Smoking, female", "Incidence, male", "Incidence, female", "Mortality, male", "Mortality, female"], "range": [[1, 0], [4, 2.5], [1, 0], [4, 2.5], [1, 0], [4, 2.5]]}, "legend": {"title": null, "orient": "none", "legendX": 134, "legendY": -73, "columns": 3, "direction": "horizontal"}}
             }}
          ]
        },
        {
          "encoding": {
            "x": {"field": "year", "type": "quantitative", "scale": {"domain": [1948, 2017], "nice": false, "zero": false}, "axis": {"title": "Year", "values": [1948, 1956, 1964, 1972, 1980, 1988, 1996, 2004, 2012], "format": "d", "labelOverlap": false}},
            "y": {"field": "value", "type": "quantitative", "scale": {"domain": [0, 200], "nice": false}, "axis": {"title": "Rate per 100,000", "orient": "right", "values": [0, 20, 40, 60, 80, 100, 120, 140, 160, 180, 200], "titlePadding": 6}}
          },
          "layer": [
            {"data": {"name": "ukRate"}, "mark": {"type": "line", "strokeWidth": 2},
             "encoding": {
               "color": {"field": "series", "type": "nominal", "scale": {"domain": ["Smoking, male", "Smoking, female", "Incidence, male", "Incidence, female", "Mortality, male", "Mortality, female"], "range": ["#8c8c8c", "#8c8c8c", "#1f1fc4", "#1f1fc4", "#c00000", "#c00000"]}, "legend": {"title": null, "orient": "none", "legendX": 134, "legendY": -73, "columns": 3, "direction": "horizontal"}},
               "strokeDash": {"field": "series", "type": "nominal", "scale": {"domain": ["Smoking, male", "Smoking, female", "Incidence, male", "Incidence, female", "Mortality, male", "Mortality, female"], "range": [[1, 0], [4, 2.5], [1, 0], [4, 2.5], [1, 0], [4, 2.5]]}, "legend": {"title": null, "orient": "none", "legendX": 134, "legendY": -73, "columns": 3, "direction": "horizontal"}}
             }}
          ]
        },
        {
          "data": {"values": [{"letter": "B"}]},
          "mark": {"type": "text", "font": "Liberation Sans", "fontSize": 19, "fill": "#000000", "baseline": "middle", "align": "center"},
          "encoding": {
            "text": {"field": "letter", "type": "nominal"},
            "x": {"datum": 1939.2, "type": "quantitative", "scale": {"domain": [1948, 2017], "nice": false, "zero": false}, "axis": {"title": "Year", "values": [1948, 1956, 1964, 1972, 1980, 1988, 1996, 2004, 2012], "format": "d", "labelOverlap": false}},
            "y": {"datum": 73.0, "type": "quantitative", "scale": {"domain": [0, 70], "nice": false}, "axis": null}
          }
        }
      ]
    },
    {
      "width": 267, "height": 263,
      "title": {"text": "US", "dx": 11, "offset": -15},
      "resolve": {"scale": {"y": "independent"}},
      "layer": [
        {
          "encoding": {
            "x": {"field": "year", "type": "quantitative", "scale": {"domain": [1935, 2014.6], "nice": false, "zero": false}, "axis": {"title": "Year", "values": [1935, 1944, 1953, 1962, 1971, 1980, 1989, 1998, 2007], "format": "d", "labelOverlap": false}},
            "y": {"field": "value", "type": "quantitative", "scale": {"domain": [0, 70], "nice": false}, "axis": {"title": "Smoking prevalence (%)", "values": [0, 10, 20, 30, 40, 50, 60, 70], "grid": true}}
          },
          "layer": [
            {"data": {"name": "usSmoking"}, "mark": {"type": "line", "strokeWidth": 1.6},
             "encoding": {
               "color": {"field": "series", "type": "nominal", "scale": {"domain": ["Smoking, male", "Smoking, female", "Incidence, male", "Incidence, female", "Mortality, male", "Mortality, female"], "range": ["#8c8c8c", "#8c8c8c", "#1f1fc4", "#1f1fc4", "#c00000", "#c00000"]}, "legend": {"title": null, "orient": "none", "legendX": 134, "legendY": -73, "columns": 3, "direction": "horizontal"}},
               "strokeDash": {"field": "series", "type": "nominal", "scale": {"domain": ["Smoking, male", "Smoking, female", "Incidence, male", "Incidence, female", "Mortality, male", "Mortality, female"], "range": [[1, 0], [4, 2.5], [1, 0], [4, 2.5], [1, 0], [4, 2.5]]}, "legend": {"title": null, "orient": "none", "legendX": 134, "legendY": -73, "columns": 3, "direction": "horizontal"}}
             }}
          ]
        },
        {
          "encoding": {
            "x": {"field": "year", "type": "quantitative", "scale": {"domain": [1935, 2014.6], "nice": false, "zero": false}, "axis": {"title": "Year", "values": [1935, 1944, 1953, 1962, 1971, 1980, 1989, 1998, 2007], "format": "d", "labelOverlap": false}},
            "y": {"field": "value", "type": "quantitative", "scale": {"domain": [0, 80], "nice": false}, "axis": {"title": "Rate per 100,000", "orient": "right", "values": [0, 10, 20, 30, 40, 50, 60, 70, 80]}}
          },
          "layer": [
            {"data": {"name": "usRate"}, "mark": {"type": "line", "strokeWidth": 2},
             "encoding": {
               "color": {"field": "series", "type": "nominal", "scale": {"domain": ["Smoking, male", "Smoking, female", "Incidence, male", "Incidence, female", "Mortality, male", "Mortality, female"], "range": ["#8c8c8c", "#8c8c8c", "#1f1fc4", "#1f1fc4", "#c00000", "#c00000"]}, "legend": {"title": null, "orient": "none", "legendX": 134, "legendY": -73, "columns": 3, "direction": "horizontal"}},
               "strokeDash": {"field": "series", "type": "nominal", "scale": {"domain": ["Smoking, male", "Smoking, female", "Incidence, male", "Incidence, female", "Mortality, male", "Mortality, female"], "range": [[1, 0], [4, 2.5], [1, 0], [4, 2.5], [1, 0], [4, 2.5]]}, "legend": {"title": null, "orient": "none", "legendX": 134, "legendY": -73, "columns": 3, "direction": "horizontal"}}
             }}
          ]
        },
        {
          "data": {"values": [{"letter": "C"}]},
          "mark": {"type": "text", "font": "Liberation Sans", "fontSize": 19, "fill": "#000000", "baseline": "middle", "align": "center"},
          "encoding": {
            "text": {"field": "letter", "type": "nominal"},
            "x": {"datum": 1925.0, "type": "quantitative", "scale": {"domain": [1935, 2014.6], "nice": false, "zero": false}, "axis": {"title": "Year", "values": [1935, 1944, 1953, 1962, 1971, 1980, 1989, 1998, 2007], "format": "d", "labelOverlap": false}},
            "y": {"datum": 73.6, "type": "quantitative", "scale": {"domain": [0, 70], "nice": false}, "axis": null}
          }
        }
      ]
    },
    {
      "width": 289, "height": 263,
      "title": {"text": "Lopez's model", "dx": 8, "offset": -15},
      "resolve": {"scale": {"y": "independent"}},
      "layer": [
        {
          "encoding": {
            "x": {"field": "year", "type": "quantitative", "scale": {"domain": [0, 100], "nice": false, "zero": false}, "axis": {"title": "Year", "values": [0, 10, 20, 30, 40, 50, 60, 70, 80, 90, 100], "format": "d", "labelOverlap": false}},
            "y": {"field": "value", "type": "quantitative", "scale": {"domain": [0, 70], "nice": false}, "axis": {"title": "Smoking prevalence (%)", "values": [0, 10, 20, 30, 40, 50, 60, 70], "grid": true}}
          },
          "layer": [
            {"data": {"name": "lopezSmoking"}, "mark": {"type": "line", "strokeWidth": 1.6, "interpolate": "monotone"},
             "encoding": {
               "color": {"field": "series", "type": "nominal", "scale": {"domain": ["Smoking, male", "Smoking, female", "Incidence, male", "Incidence, female", "Mortality, male", "Mortality, female"], "range": ["#8c8c8c", "#8c8c8c", "#1f1fc4", "#1f1fc4", "#c00000", "#c00000"]}, "legend": {"title": null, "orient": "none", "legendX": 134, "legendY": -73, "columns": 3, "direction": "horizontal"}},
               "strokeDash": {"field": "series", "type": "nominal", "scale": {"domain": ["Smoking, male", "Smoking, female", "Incidence, male", "Incidence, female", "Mortality, male", "Mortality, female"], "range": [[1, 0], [4, 2.5], [1, 0], [4, 2.5], [1, 0], [4, 2.5]]}, "legend": {"title": null, "orient": "none", "legendX": 134, "legendY": -73, "columns": 3, "direction": "horizontal"}}
             }}
          ]
        },
        {
          "encoding": {
            "x": {"field": "year", "type": "quantitative", "scale": {"domain": [0, 100], "nice": false, "zero": false}, "axis": {"title": "Year", "values": [0, 10, 20, 30, 40, 50, 60, 70, 80, 90, 100], "format": "d", "labelOverlap": false}},
            "y": {"field": "value", "type": "quantitative", "scale": {"domain": [0, 40], "nice": false}, "axis": {"title": "Smoking-attributable Mortality (%)", "orient": "right", "values": [0, 5, 10, 15, 20, 25, 30, 35, 40], "labelPadding": 4, "titlePadding": 2}}
          },
          "layer": [
            {"data": {"name": "lopezMortality"}, "mark": {"type": "line", "strokeWidth": 2, "interpolate": "monotone"},
             "encoding": {
               "color": {"field": "series", "type": "nominal", "scale": {"domain": ["Smoking, male", "Smoking, female", "Incidence, male", "Incidence, female", "Mortality, male", "Mortality, female"], "range": ["#8c8c8c", "#8c8c8c", "#1f1fc4", "#1f1fc4", "#c00000", "#c00000"]}, "legend": {"title": null, "orient": "none", "legendX": 134, "legendY": -73, "columns": 3, "direction": "horizontal"}},
               "strokeDash": {"field": "series", "type": "nominal", "scale": {"domain": ["Smoking, male", "Smoking, female", "Incidence, male", "Incidence, female", "Mortality, male", "Mortality, female"], "range": [[1, 0], [4, 2.5], [1, 0], [4, 2.5], [1, 0], [4, 2.5]]}, "legend": {"title": null, "orient": "none", "legendX": 134, "legendY": -73, "columns": 3, "direction": "horizontal"}}
             }}
          ]
        },
        {
          "data": {"values": [{"year": 20}, {"year": 50}, {"year": 80}]},
          "mark": {"type": "rule", "color": "#000000", "strokeWidth": 1.2, "strokeDash": [4, 3]},
          "encoding": {"x": {"field": "year", "type": "quantitative", "scale": {"domain": [0, 100], "nice": false, "zero": false}, "axis": {"title": "Year", "values": [0, 10, 20, 30, 40, 50, 60, 70, 80, 90, 100], "format": "d", "labelOverlap": false}}}
        },
        {
          "data": {"values": [{"stage": "Stage I", "year": 10}, {"stage": "Stage II", "year": 35}, {"stage": "Stage III", "year": 64}, {"stage": "Stage IV", "year": 89}]},
          "mark": {"type": "text", "font": "Lato", "fontSize": 11, "fill": "#000000", "baseline": "middle", "align": "center"},
          "encoding": {
            "text": {"field": "stage", "type": "nominal"},
            "x": {"field": "year", "type": "quantitative", "scale": {"domain": [0, 100], "nice": false, "zero": false}, "axis": {"title": "Year", "values": [0, 10, 20, 30, 40, 50, 60, 70, 80, 90, 100], "format": "d", "labelOverlap": false}},
            "y": {"datum": 67.2, "type": "quantitative", "scale": {"domain": [0, 70], "nice": false}, "axis": null}
          }
        },
        {
          "data": {"values": [{"letter": "D"}]},
          "mark": {"type": "text", "font": "Liberation Sans", "fontSize": 19, "fill": "#000000", "baseline": "middle", "align": "center"},
          "encoding": {
            "text": {"field": "letter", "type": "nominal"},
            "x": {"datum": -13.1, "type": "quantitative", "scale": {"domain": [0, 100], "nice": false, "zero": false}, "axis": {"title": "Year", "values": [0, 10, 20, 30, 40, 50, 60, 70, 80, 90, 100], "format": "d", "labelOverlap": false}},
            "y": {"datum": 73.9, "type": "quantitative", "scale": {"domain": [0, 70], "nice": false}, "axis": null}
          }
        }
      ]
    }
  ]
}
